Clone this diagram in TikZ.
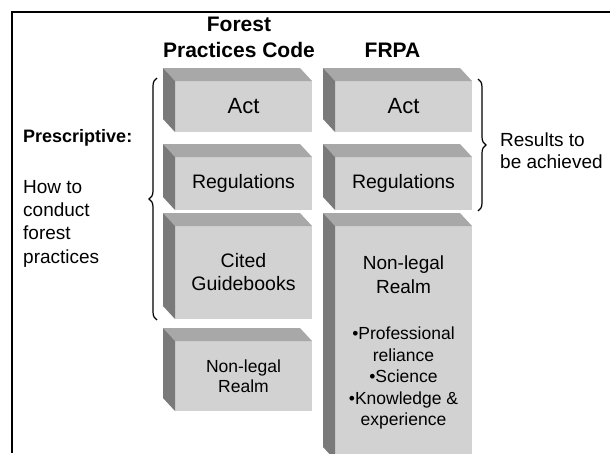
\documentclass[tikz,border=0pt]{standalone}
\usepackage{fontspec}
\setmainfont{Liberation Sans}
\usetikzlibrary{positioning,decorations.pathreplacing}
\definecolor{slabfront}{RGB}{210,210,210}
\definecolor{slabtop}{RGB}{168,168,168}
\definecolor{slabside}{RGB}{122,122,122}
\tikzset{
  slab/.style={
    fill=slabfront,
    minimum width=137pt,
    minimum height={#1},
    inner sep=0pt,
    outer sep=0pt,
    align=center,
    font=\fontsize{19.5}{23}\selectfont,
  },
  slab top/.style={fill=slabtop},
  slab side/.style={fill=slabside},
  heading/.style={
    font=\bfseries\fontsize{21}{26}\selectfont,
    align=center,
    inner sep=0pt,
  },
  side text/.style={
    font=\fontsize{19}{23.3}\selectfont,
    align=left,
    inner sep=0pt,
  },
  curly/.style={
    decorate,
    decoration={brace, amplitude=8pt},
    line width=1.2pt,
  }
}
\begin{document}
\begin{tikzpicture}[x=1pt, y=-1pt, node distance=23pt]
        \useasboundingbox (0,0) rectangle (610,453);

        % frame of the slide
        \draw[line width=2.5pt] (12,453) |- (610,12);

        % Forest Practices Code column
        \node [slab=51pt, font=\fontsize{22}{26}\selectfont] (pa) at (243.5,106.5) {Act};
        \node [slab=53pt, below=25pt of pa] (pr) {Regulations};
        \node [slab=93pt, below=16pt of pr] (pg) {Cited\\Guidebooks};
        \node [slab=70pt, below=22pt of pg, font=\fontsize{17.5}{20}\selectfont] (pn) {Non-legal\\Realm};

        % FRPA column
        \node [slab=51pt, right=of pa, font=\fontsize{22}{26}\selectfont] (fa) {Act};
        \node [slab=53pt, right=of pr] (fr) {Regulations};
        \node [slab=234pt, below=16pt of fr] (fn) {};
        \node [side text, align=center, font=\fontsize{19}{24}\selectfont, below=30pt of fn.north] (fnhead) {Non-legal\\Realm};
        \node [side text, align=center, font=\fontsize{17.5}{21.4}\selectfont, below=101pt of fn.north] (fnlist) {•Professional\\reliance\\•Science\\•Knowledge \&\\experience};

        % top and side faces of the slabs
        \foreach \b in {pa,pr,pg,pn,fa,fr,fn} {
          \fill[slab top] (\b.north west) -- ++(-12,-13) -- ([shift={(-12,-13)}]\b.north east) -- (\b.north east) -- cycle;
          \fill[slab side] (\b.north west) -- ++(-12,-13) -- ([shift={(-12,-13)}]\b.south west) -- (\b.south west) -- cycle;
        }

        % headings
        \node [heading] (fpc) at (239,37) {Forest\\Practices Code};
        \node [heading] (frpa) at (392.5,50) {FRPA};

        % left side
        \node [side text, font=\bfseries\fontsize{18}{22}\selectfont, anchor=west] (pres) at (23,138) {Prescriptive:};
        \node [side text, anchor=north west] (howto) at (23,180) {How to\\conduct\\forest\\practices};
        \draw [curly] ([shift={(-18,1)}]pg.south west) -- ([shift={(-18,-3)}]pa.north west);

        % right side
        \draw [curly] ([shift={(6,-2)}]fa.north east) -- ([shift={(6,1)}]fr.south east);
        \node [side text, font=\fontsize{19}{22}\selectfont, anchor=west] (results) at (500,151) {Results to\\be achieved};
      \end{tikzpicture}
\end{document}
